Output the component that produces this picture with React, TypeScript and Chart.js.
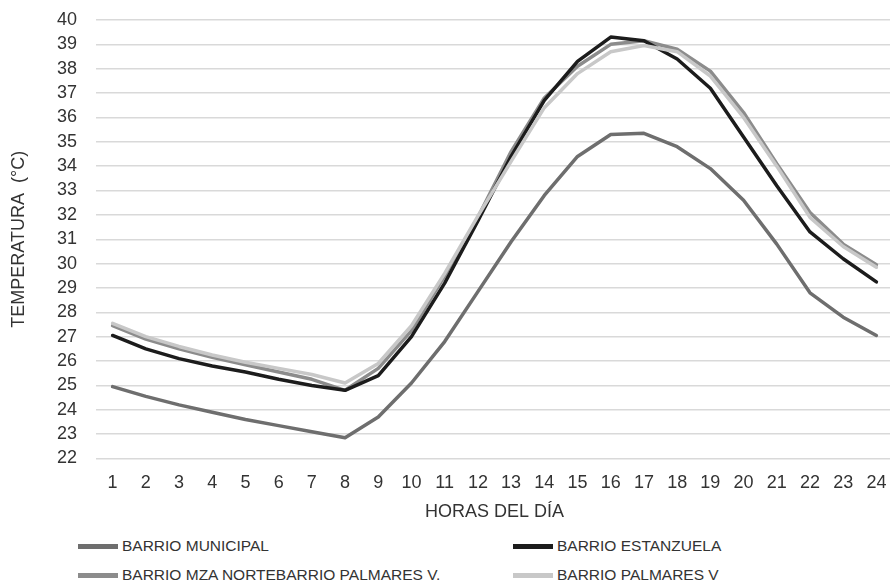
import React, { useEffect, useRef } from "react";
import { Chart, registerables } from "chart.js";

Chart.register(...registerables);

const hours = ["1", "2", "3", "4", "5", "6", "7", "8", "9", "10", "11", "12", "13", "14", "15", "16", "17", "18", "19", "20", "21", "22", "23", "24"];

const municipal = [24.95, 24.55, 24.2, 23.9, 23.6, 23.35, 23.1, 22.85, 23.7, 25.1, 26.8, 28.85, 30.9, 32.8, 34.4, 35.3, 35.35, 34.8, 33.9, 32.6, 30.8, 28.8, 27.8, 27.05];
const estanzuela = [27.05, 26.5, 26.1, 25.8, 25.55, 25.25, 25.0, 24.8, 25.4, 27.0, 29.2, 31.75, 34.4, 36.7, 38.3, 39.3, 39.15, 38.4, 37.2, 35.2, 33.2, 31.3, 30.2, 29.25];
const mzaNorte = [27.45, 26.9, 26.5, 26.15, 25.85, 25.55, 25.25, 24.8, 25.7, 27.25, 29.5, 31.9, 34.6, 36.8, 38.1, 39.0, 39.15, 38.8, 37.9, 36.2, 34.1, 32.1, 30.8, 29.95];
const palmares = [27.55, 27.0, 26.6, 26.25, 25.95, 25.7, 25.45, 25.1, 25.9, 27.45, 29.6, 31.95, 34.2, 36.4, 37.8, 38.7, 38.95, 38.7, 37.7, 36.0, 34.0, 31.9, 30.7, 29.85];

const seriesNames = ["BARRIO MUNICIPAL", "BARRIO ESTANZUELA", "BARRIO MZA NORTEBARRIO PALMARES V.", "BARRIO PALMARES V"];
const seriesColors = ["#6e6e6e", "#1c1c1c", "#8c8c8c", "#c8c8c8"];

const FONT = "'Liberation Sans', Arial, Helvetica, sans-serif";
const TEXT = "#333333";

export default function App() {
  const ref = useRef<HTMLCanvasElement | null>(null);

  useEffect(() => {
    if (!ref.current) return;
    Chart.defaults.font.family = FONT;
    const chart = new Chart(ref.current, {
      type: "line",
      data: {
        labels: hours,
        datasets: [
          { label: seriesNames[3], data: palmares, borderColor: seriesColors[3], backgroundColor: seriesColors[3] },
          { label: seriesNames[1], data: estanzuela, borderColor: seriesColors[1], backgroundColor: seriesColors[1] },
          { label: seriesNames[2], data: mzaNorte, borderColor: seriesColors[2], backgroundColor: seriesColors[2] },
          { label: seriesNames[0], data: municipal, borderColor: seriesColors[0], backgroundColor: seriesColors[0] },
        ],
      },
      options: {
        animation: false,
        responsive: false,
        maintainAspectRatio: false,
        layout: { padding: { left: 4, top: 20, right: 0, bottom: 0 } },
        plugins: { legend: { display: false }, tooltip: { enabled: false } },
        elements: {
          point: { radius: 0 },
          line: { borderWidth: 3.5, tension: 0, borderJoinStyle: "round", borderCapStyle: "round" },
        },
        scales: {
          x: {
            offset: true,
            grid: { display: true, drawOnChartArea: false, drawTicks: true, tickLength: 14, tickColor: "rgba(0,0,0,0)", color: "rgba(0,0,0,0)" },
            border: { display: false },
            ticks: { color: TEXT, font: { size: 18 }, padding: 0, maxRotation: 0, autoSkip: false },
            title: { display: true, text: "HORAS DEL DÍA", color: TEXT, font: { size: 18 }, padding: { top: 0, bottom: 7 } },
            afterFit: (s: any) => { s.height = 71.5; },
          },
          y: {
            min: 22,
            max: 40,
            ticks: { stepSize: 1, color: TEXT, font: { size: 18 }, padding: 0, autoSkip: false },
            grid: { color: "#d9d9d9", lineWidth: 1.5, drawTicks: true, tickLength: 19, tickColor: "rgba(0,0,0,0)" },
            border: { display: false },
            title: { display: true, text: "TEMPERATURA  (°C)", color: TEXT, font: { size: 18 }, padding: { top: 4, bottom: 0 } },
            afterFit: (s: any) => { s.width = 92; },
          },
        },
      },
    });
    return () => chart.destroy();
  }, []);

  const legendItems = [
    { i: 0, x: 78, y: 546 },
    { i: 1, x: 513, y: 546 },
    { i: 2, x: 78, y: 575 },
    { i: 3, x: 513, y: 575 },
  ];

  return (
    <div style={{ position: "fixed", left: 0, top: 0, width: 890, height: 586, overflow: "hidden", background: "#ffffff" }}>
      <canvas ref={ref} width={893} height={530} style={{ position: "absolute", left: 0, top: 0, width: 893, height: 530 }} />
      {legendItems.map((it) => (
        <div key={it.i}>
          <div style={{ position: "absolute", left: it.x, top: it.y - 2.5, width: 40, height: 5, background: seriesColors[it.i] }} />
          <div style={{ position: "absolute", left: it.x + 44, top: it.y - 10, height: 20, lineHeight: "20px", fontFamily: FONT, fontSize: 15.5, color: TEXT, whiteSpace: "nowrap" }}>
            {seriesNames[it.i]}
          </div>
        </div>
      ))}
    </div>
  );
}
